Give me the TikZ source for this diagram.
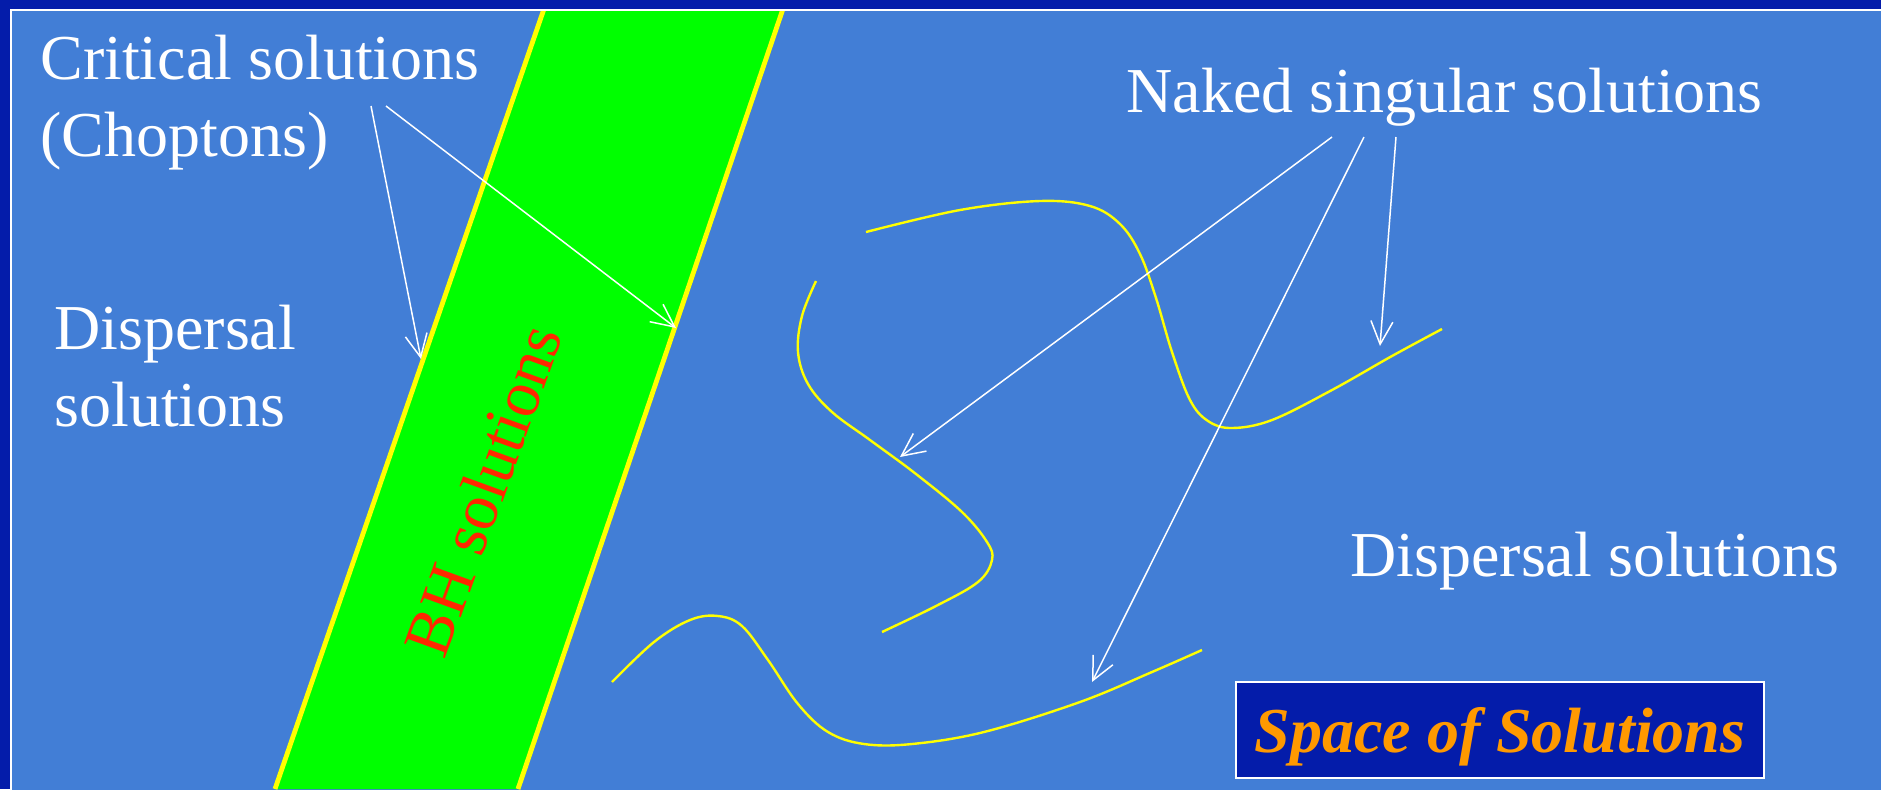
\documentclass[tikz,border=0pt]{standalone}
\usepackage{fontspec}
\setmainfont{Liberation Serif}
\usetikzlibrary{arrows.meta}
\definecolor{bgdark}{RGB}{4,28,170}
\definecolor{bglight}{RGB}{66,126,214}
\definecolor{bandgreen}{RGB}{0,255,0}
\definecolor{edgeyellow}{RGB}{255,255,0}
\definecolor{bhred}{RGB}{255,40,0}
\definecolor{titleorange}{RGB}{255,153,0}
\tikzset{
  lbl/.style={text=white, inner sep=0pt, font=\fontsize{32}{38.5}\selectfont, align=left},
  pointer/.style={draw=white, line width=0.75pt, -{Straight Barb[length=11.5pt,width=11pt,line width=0.75pt]}},
  solcurve/.style={draw=edgeyellow, line width=1.2pt},
  bandedge/.style={draw=edgeyellow, line width=2.4pt},
}
\begin{document}
\begin{tikzpicture}[x=0.5pt,y=-0.5pt]
\clip (0,0) rectangle (1881,789);
\fill[bgdark] (0,0) rectangle (1881,789);
\fill[bglight] (10,9) rectangle (1900,800);
\draw[white, line width=0.7pt] (11,10) rectangle (1900,800);
% BH band
\begin{scope}
\clip (12,11) rectangle (1900,800);
\fill[bandgreen] (550.5,-10) -- (789.4,-10) -- (518,789) -- (275,789) -- cycle;
\draw[bandedge] (550.5,-10) -- (275,789);
\draw[bandedge] (789.4,-10) -- (518,789);
\end{scope}
\node[text=bhred, inner sep=0pt, font=\fontsize{33}{38}\selectfont, rotate=70] (bh) at (483,490) {BH solutions};
% text labels
\node[lbl, anchor=base west] (crit) at (40,156) {Critical solutions\\(Choptons)};
\node[lbl, anchor=base west] (dispL) at (54,426) {Dispersal\\solutions};
\node[lbl, anchor=base west] (naked) at (1126,112) {Naked singular solutions};
\node[lbl, anchor=base west] (dispR) at (1350,576) {Dispersal solutions};
\node[draw=white, line width=0.8pt, fill=bgdark, minimum width=264pt, minimum height=48pt,
  text=titleorange, inner sep=0pt, text height=24pt, text depth=2pt,
  font=\fontsize{32}{38}\selectfont\bfseries\itshape] (sos) at (1500,730) {Space of Solutions};
% solution curves
\draw[solcurve] plot[smooth, tension=0.6] coordinates {(866,232) (960,210) (1040,201) (1090,206) (1120,224) (1140,254) (1156,298) (1172,352) (1190,400) (1208,421) (1232,428) (1272,420) (1332,390) (1392,356) (1442,329)};
\draw[solcurve] plot[smooth, tension=0.6] coordinates {(816,281) (802,316) (798,352) (808,384) (832,412) (870,440) (916,474) (962,512) (987,542) (992,560) (978,582) (936,606) (882,632)};
\draw[solcurve] plot[smooth, tension=0.6] coordinates {(612,682) (654,642) (690,620) (718,616) (742,626) (768,660) (798,704) (828,732) (864,744) (912,744) (984,732) (1080,702) (1152,672) (1202,650)};
% arrows
\coordinate (c1s) at (371,106);
\coordinate (c1e) at (421,359);
\coordinate (c2s) at (386,106);
\coordinate (c2e) at (676,328);
\coordinate (n1s) at (1332,137);
\coordinate (n1e) at (900,457);
\coordinate (n2s) at (1364,137);
\coordinate (n2e) at (1092,682);
\coordinate (n3s) at (1396,137);
\coordinate (n3e) at (1380,346);
\draw[pointer] (c1s) -- (c1e);
\draw[pointer] (c2s) -- (c2e);
\draw[pointer] (n1s) -- (n1e);
\draw[pointer] (n2s) -- (n2e);
\draw[pointer] (n3s) -- (n3e);
\end{tikzpicture}
\end{document}
